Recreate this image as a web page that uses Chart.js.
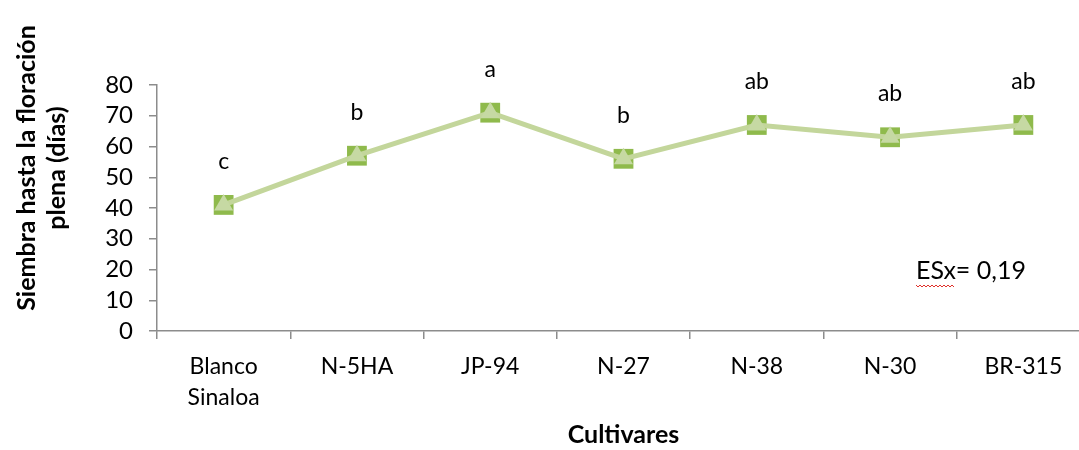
<!DOCTYPE html>
<html>
<head>
<meta charset="utf-8">
<script src="https://cdn.jsdelivr.net/npm/chart.js@4.4.1/dist/chart.umd.min.js"></script>
<style>
  html, body { margin: 0; padding: 0; background: #fff; overflow: hidden; }
  #wrap { width: 1079px; height: 450px; overflow: hidden; position: relative; }
  #chart { position: absolute; left: 0; top: 0; width: 1104px; height: 450px; }
</style>
</head>
<body>
<div id="wrap"><canvas id="chart" width="1104" height="450"></canvas></div>
<script>
const cultivares = [['Blanco', 'Sinaloa'], 'N-5HA', 'JP-94', 'N-27', 'N-38', 'N-30', 'BR-315'];
const diasFloracion = [41, 57, 71, 56, 67, 63, 67];
const letras = ['c', 'b', 'a', 'b', 'ab', 'ab', 'ab'];
const yTicks = [0, 10, 20, 30, 40, 50, 60, 70, 80];
const notaES = 'ESx= 0,19';

const FONT = 'Lato, "Open Sans", sans-serif';
const AXIS = '#8c8c8c';

const extras = {
  id: 'extras',
  afterDatasetsDraw(chart) {
    const ctx = chart.ctx;
    const meta = chart.getDatasetMeta(0);
    ctx.save();
    ctx.fillStyle = '#000';
    ctx.font = '23px ' + FONT;
    ctx.textAlign = 'center';
    ctx.textBaseline = 'alphabetic';
    meta.data.forEach((pt, i) => {
      ctx.fillText(letras[i], pt.x, pt.y - 36);
    });

    // nota ESx
    ctx.font = '25px ' + FONT;
    ctx.textAlign = 'left';
    ctx.fillText(notaES, 916, 279);
    const w = ctx.measureText('ESx').width;
    ctx.strokeStyle = '#e0302a';
    ctx.lineWidth = 1;
    ctx.beginPath();
    for (let x = 916; x <= 916 + w; x += 2) {
      const y = 285 + ((x - 916) / 2 % 2 === 0 ? 0 : 2);
      if (x === 916) ctx.moveTo(x, y); else ctx.lineTo(x, y);
    }
    ctx.stroke();

    // titulo eje Y
    ctx.font = 'bold 25px ' + FONT;
    ctx.textAlign = 'center';
    ctx.textBaseline = 'middle';
    ctx.translate(27, 168);
    ctx.rotate(-Math.PI / 2);
    ctx.fillText('Siembra hasta la floración', 0, 0);
    ctx.fillText('plena (días)', 0, 30);
    ctx.restore();
  }
};

new Chart(document.getElementById('chart'), {
  type: 'line',
  data: {
    labels: cultivares,
    datasets: [
      {
        data: diasFloracion,
        borderColor: '#c3d69b',
        borderWidth: 5,
        pointStyle: 'triangle',
        pointRadius: 11,
        pointBackgroundColor: '#c6d9a3',
        pointBorderWidth: 0,
        tension: 0
      },
      {
        data: diasFloracion,
        showLine: false,
        pointStyle: 'rect',
        pointRadius: 14,
        pointBackgroundColor: '#8fba4c',
        pointBorderWidth: 0
      }
    ]
  },
  options: {
    responsive: false,
    animation: false,
    clip: false,
    layout: { padding: { left: 0, right: 0, top: 85, bottom: 0 } },
    plugins: { legend: { display: false }, tooltip: { enabled: false } },
    scales: {
      y: {
        min: 0,
        max: 80,
        afterBuildTicks(scale) { scale.ticks = yTicks.map(v => ({ value: v })); },
        afterFit(scale) { scale.width = 157; },
        border: { display: true, color: AXIS, width: 1.5 },
        grid: { drawOnChartArea: false, drawTicks: true, tickLength: 8, color: AXIS, lineWidth: 1.5 },
        ticks: { color: '#000', padding: 16, autoSkip: false, font: { family: FONT, size: 24 } }
      },
      x: {
        offset: true,
        afterFit(scale) { scale.height = 119; scale.paddingRight = 0; scale.paddingLeft = 0; },
        border: { display: true, color: AXIS, width: 1.5 },
        grid: { offset: true, drawOnChartArea: false, drawTicks: true, tickLength: 8, color: AXIS, lineWidth: 1.5 },
        ticks: { color: '#000', padding: 12, maxRotation: 0, autoSkip: false, font: { family: FONT, size: 23, lineHeight: 1.35 } },
        title: { display: true, text: 'Cultivares', color: '#000', padding: { top: 0, bottom: 0 }, font: { family: FONT, size: 25, weight: 'bold' } }
      }
    }
  },
  plugins: [extras]
});
</script>
</body>
</html>
